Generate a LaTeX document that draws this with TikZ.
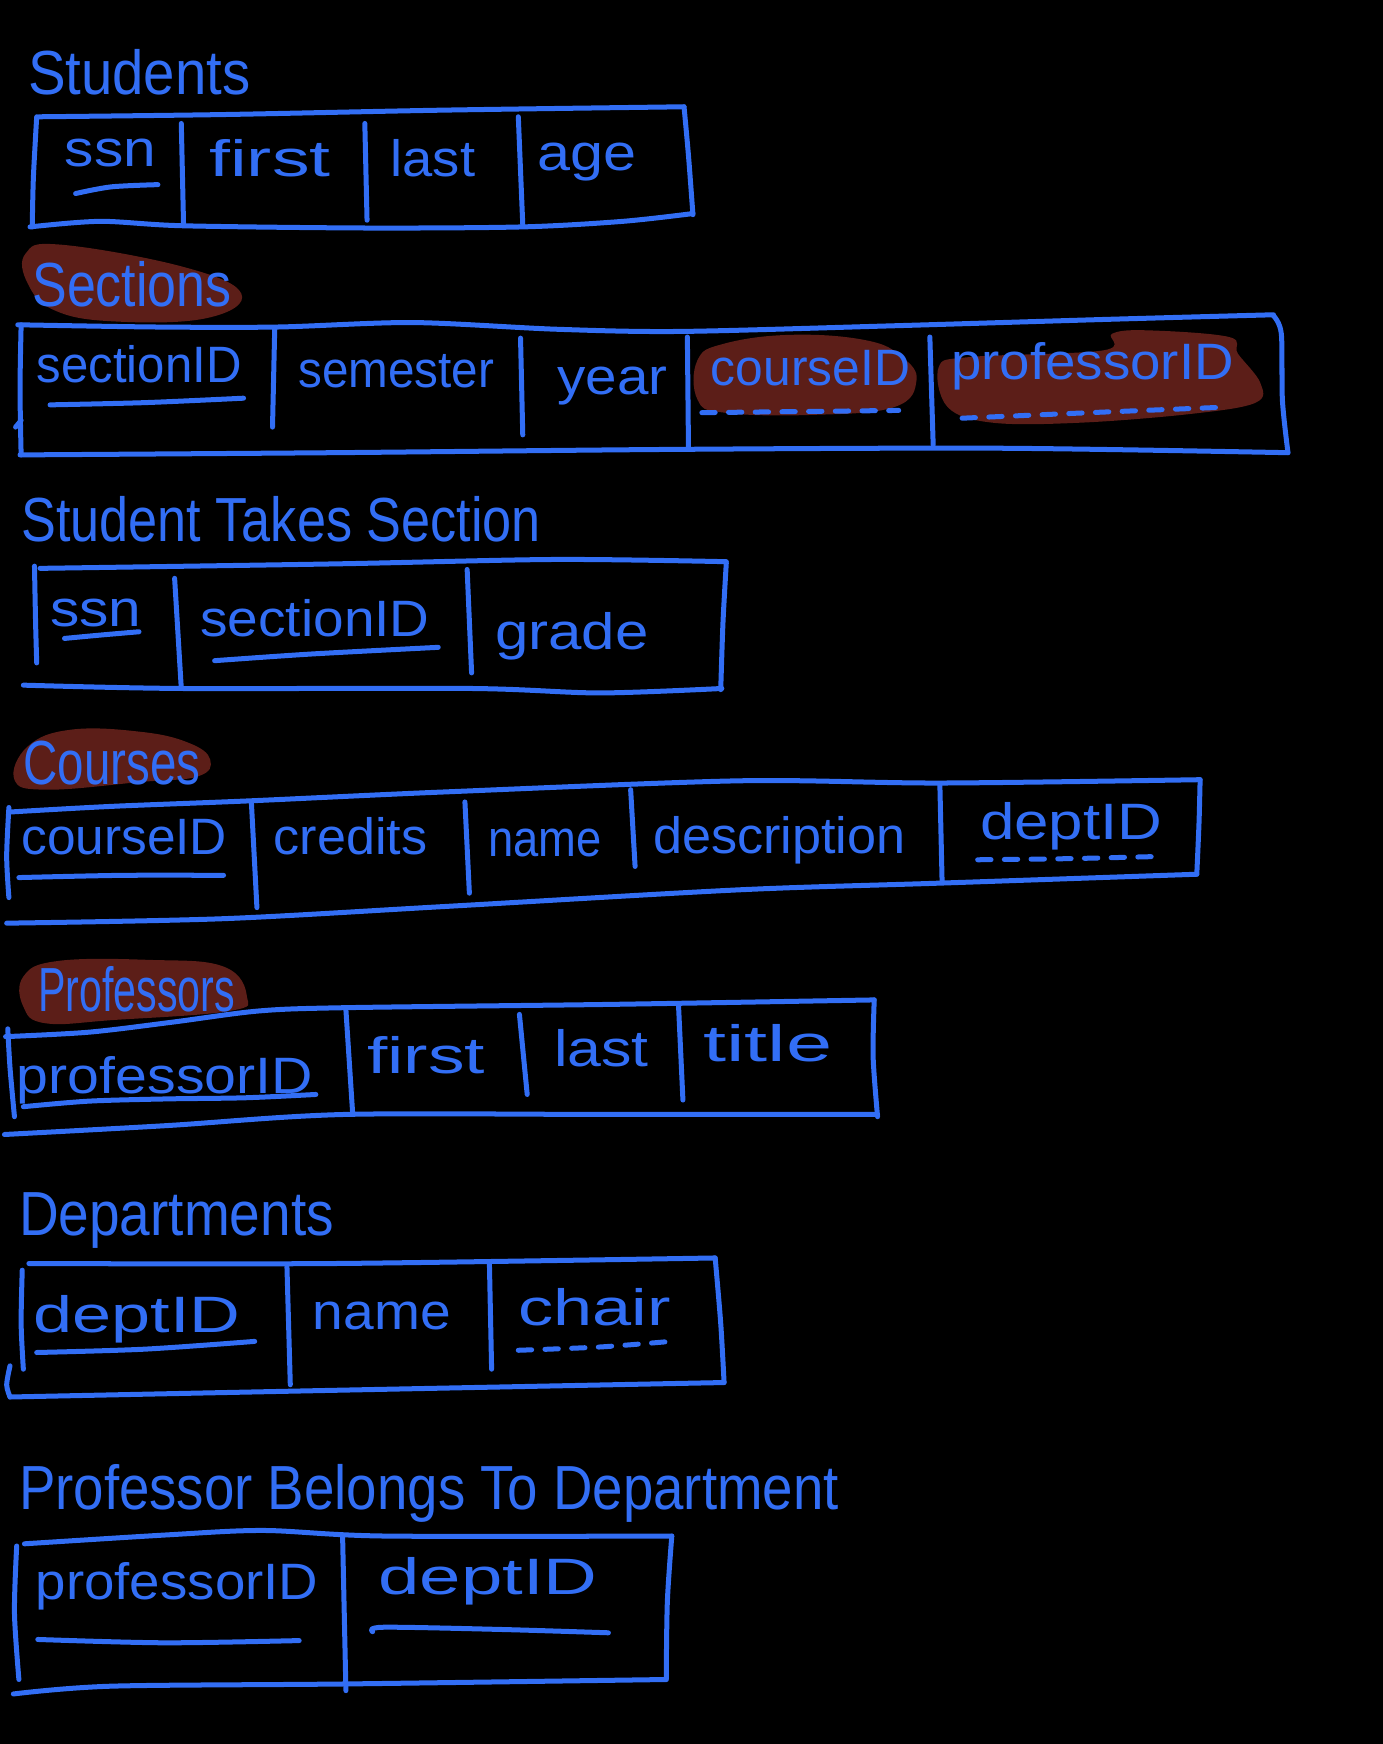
\documentclass[tikz,border=0pt]{standalone}
\usepackage{fontspec}
\setmainfont{Liberation Sans}
\usepackage{graphicx}
\definecolor{ink}{RGB}{50,110,245}
\definecolor{mark}{RGB}{92,30,24}
% set a word to a given width, keeping its height
\newcommand{\fitto}[2]{\resizebox{#1pt}{\height}{#2}}
\tikzset{
  pen/.style={draw=ink, line width=4.5pt, line cap=round, line join=round},
  dashpen/.style={pen, dash pattern=on 12pt off 12pt},
  blob/.style={fill=mark, draw=none},
  fld/.style={text=ink, inner sep=0pt, anchor=base west, font=\fontsize{46}{46}\selectfont},
  ttl/.style={text=ink, inner sep=0pt, anchor=base west, font=\fontsize{56}{56}\selectfont},
}
\begin{document}
\begin{tikzpicture}[x=1pt,y=-1pt]
\fill[black] (0,0) rectangle (1243,1568);
\useasboundingbox (0,0) rectangle (1243,1568);

% ---------- highlight marks ----------
\fill[blob] plot[smooth cycle, tension=0.7] coordinates {(23,228) (55,220) (165,240) (217,264) (186,286) (103,289) (49,279) (25,255)};
\fill[blob] plot[smooth cycle, tension=0.7] coordinates {(627,324) (651,309) (712,301) (779,306) (811,321) (824,342) (804,366) (731,373) (651,371) (627,359)};
\fill[blob] plot[smooth cycle, tension=0.6] coordinates {(844,330) (872,321) (992,315) (1000,300) (1032,297) (1105,303) (1113,318) (1133,344) (1129,362) (1072,372) (972,380) (892,380) (852,366)};
\fill[blob] plot[smooth cycle, tension=0.7] coordinates {(25,671) (64,656) (127,658) (170,668) (189,683) (178,698) (127,703) (42,710) (13,701)};
\fill[blob] plot[smooth cycle, tension=0.7] coordinates {(21,878) (52,864) (134,863) (201,869) (222,896) (206,909) (103,917) (41,920) (21,905)};

% ---------- Students ----------
\node[ttl] (t-students) at (25,85) {\fitto{200}{Students}};
\draw[pen] plot[smooth] coordinates {(35,105) (200,103) (400,99) (615,96)};
\draw[pen] plot[smooth] coordinates {(33,105) (30,160) (29,204)};
\draw[pen] plot[smooth] coordinates {(615,96) (619,140) (623,193)};
\draw[pen] plot[smooth] coordinates {(27,204) (90,199) (165,203) (330,205) (470,204) (560,199) (623,192)};
\draw[pen] (163,111) -- (165,201);
\draw[pen] (328,111) -- (330,198);
\draw[pen] (466,105) -- (470,202);
\node[fld] (s-ssn) at (58,150) {\fitto{82}{ssn}};
\node[fld] (s-first) at (188,159) {\fitto{109}{first}};
\node[fld] (s-last) at (351,159) {\fitto{76}{last}};
\node[fld] (s-age) at (483,153) {\fitto{89}{age}};
\draw[pen] plot[smooth] coordinates {(68,174) (100,168) (142,166)};

% ---------- Sections ----------
\node[ttl] (t-sections) at (29,276) {\fitto{179}{Sections}};
\draw[pen] plot[smooth] coordinates {(16,292) (140,294) (250,294) (371,290) (500,296) (611,298) (800,293) (1000,287) (1145,283)};
\draw[pen] plot[smooth] coordinates {(19,292) (18,350) (19,409)};
\draw[pen] (14,384) -- (19,378);
\draw[pen] plot[smooth] coordinates {(1145,284) (1152,300) (1153,360) (1158,407)};
\draw[pen] plot[smooth] coordinates {(18,409) (300,407) (611,404) (900,403) (1158,407)};
\draw[pen] (247,295) -- (245,384);
\draw[pen] (468,304) -- (470,391);
\draw[pen] (618,303) -- (619,404);
\draw[pen] (836,303) -- (839,400);
\node[fld] (c-sectionid) at (33,344) {\fitto{184}{sectionID}};
\node[fld] (c-semester) at (268,348) {\fitto{176}{semester}};
\node[fld] (c-year) at (501,355) {\fitto{99}{year}};
\node[fld] (c-courseid) at (639,347) {\fitto{179}{courseID}};
\node[fld] (c-profid) at (855,341) {\fitto{254}{professorID}};
\draw[pen] plot[smooth] coordinates {(45,364) (130,362) (219,358)};
\draw[dashpen] plot[smooth] coordinates {(631,371) (720,370) (808,369)};
\draw[dashpen] plot[smooth] coordinates {(865,376) (980,371) (1103,366)};

% ---------- StudentTakesSection ----------
\node[ttl] (t-takes) at (19,487) {\fitto{467}{Student Takes Section}};
\draw[pen] plot[smooth] coordinates {(36,511) (300,507) (500,503) (653,505)};
\draw[pen] plot[smooth] coordinates {(31,509) (32,560) (33,596)};
\draw[pen] plot[smooth] coordinates {(653,506) (650,560) (648,620)};
\draw[pen] plot[smooth] coordinates {(21,616) (163,619) (424,619) (539,623) (649,619)};
\draw[pen] (157,520) -- (163,619);
\draw[pen] (420,512) -- (424,605);
\node[fld] (k-ssn) at (45,563) {\fitto{82}{ssn}};
\node[fld] (k-sectionid) at (180,572) {\fitto{206}{sectionID}};
\node[fld] (k-grade) at (445,584) {\fitto{138}{grade}};
\draw[pen] plot[smooth] coordinates {(58,574) (90,571) (125,568)};
\draw[pen] plot[smooth] coordinates {(193,594) (280,588) (394,582)};

% ---------- Courses ----------
\node[ttl] (t-courses) at (21,705) {\fitto{159}{Courses}};
\draw[pen] plot[smooth] coordinates {(10,730) (100,725) (225,720) (400,712) (665,702) (845,704) (1079,701)};
\draw[pen] plot[smooth] coordinates {(8,726) (6,770) (8,807)};
\draw[pen] plot[smooth] coordinates {(1079,701) (1078,740) (1076,786)};
\draw[pen] plot[smooth] coordinates {(6,830) (200,826) (400,815) (665,800) (845,794) (1076,786)};
\draw[pen] (226,721) -- (231,816);
\draw[pen] (418,721) -- (422,803);
\draw[pen] (567,710) -- (571,779);
\draw[pen] (845,705) -- (847,792);
\node[fld] (r-courseid) at (19,768) {\fitto{185}{courseID}};
\node[fld] (r-credits) at (246,768) {\fitto{138}{credits}};
\node[fld] (r-name) at (439,770) {\fitto{102}{name}};
\node[fld] (r-descr) at (587,767) {\fitto{227}{description}};
\node[fld] (r-deptid) at (881,755) {\fitto{164}{deptID}};
\draw[pen] plot[smooth] coordinates {(17,789) (110,787) (201,787)};
\draw[dashpen] plot[smooth] coordinates {(879,773) (960,772) (1043,770)};

% ---------- Professors ----------
\node[ttl] (t-profs) at (34,909) {\fitto{177}{Professors}};
\draw[pen] plot[smooth] coordinates {(5,932) (80,928) (155,919) (232,909) (309,906) (550,903) (786,899)};
\draw[pen] plot[smooth] coordinates {(7,925) (9,960) (13,1004)};
\draw[pen] plot[smooth] coordinates {(786,899) (785,950) (789,1004)};
\draw[pen] plot[smooth] coordinates {(4,1020) (150,1012) (309,1002) (550,1002) (789,1002)};
\draw[pen] (311,908) -- (317,1000);
\draw[pen] (467,912) -- (474,984);
\draw[pen] (610,903) -- (614,989);
\node[fld] (p-profid) at (15,983) {\fitto{266}{professorID}};
\node[fld] (p-first) at (330,965) {\fitto{106}{first}};
\node[fld] (p-last) at (498,959) {\fitto{85}{last}};
\node[fld] (p-title) at (632,954) {\fitto{116}{title}};
\draw[pen] plot[smooth] coordinates {(21,995) (80,990) (150,988) (220,987) (284,984)};

% ---------- Departments ----------
\node[ttl] (t-depts) at (17,1111) {\fitto{283}{Departments}};
\draw[pen] plot[smooth] coordinates {(26,1136) (300,1136) (643,1131)};
\draw[pen] plot[smooth] coordinates {(20,1142) (19,1190) (21,1231)};
\draw[pen] plot[smooth] coordinates {(9,1228) (6,1245) (9,1256)};
\draw[pen] plot[smooth] coordinates {(9,1256) (300,1250) (651,1243)};
\draw[pen] plot[smooth] coordinates {(643,1131) (648,1190) (651,1243)};
\draw[pen] (258,1139) -- (261,1245);
\draw[pen] (440,1135) -- (442,1231);
\node[fld] (d-deptid) at (30,1198) {\fitto{186}{deptID}};
\node[fld] (d-name) at (281,1195) {\fitto{124}{name}};
\node[fld] (d-chair) at (466,1192) {\fitto{137}{chair}};
\draw[pen] plot[smooth] coordinates {(33,1216) (130,1213) (229,1206)};
\draw[dashpen] plot[smooth] coordinates {(466,1214) (540,1211) (603,1206)};

% ---------- ProfessorBelongsToDepartment ----------
\node[ttl] (t-belongs) at (17,1357) {\fitto{737}{Professor Belongs To Department}};
\draw[pen] plot[smooth] coordinates {(22,1388) (150,1380) (237,1376) (345,1381) (604,1381)};
\draw[pen] plot[smooth] coordinates {(15,1390) (13,1450) (17,1510)};
\draw[pen] plot[smooth] coordinates {(604,1381) (600,1440) (599,1510)};
\draw[pen] plot[smooth] coordinates {(12,1523) (100,1516) (311,1514) (599,1510)};
\draw[pen] (308,1380) -- (311,1520);
\node[fld] (b-profid) at (32,1438) {\fitto{254}{professorID}};
\node[fld] (b-deptid) at (340,1434) {\fitto{197}{deptID}};
\draw[pen] plot[smooth] coordinates {(34,1474) (148,1477) (269,1475)};
\draw[pen] plot[smooth] coordinates {(335,1467) (345,1463) (450,1465) (547,1468)};
\end{tikzpicture}
\end{document}
